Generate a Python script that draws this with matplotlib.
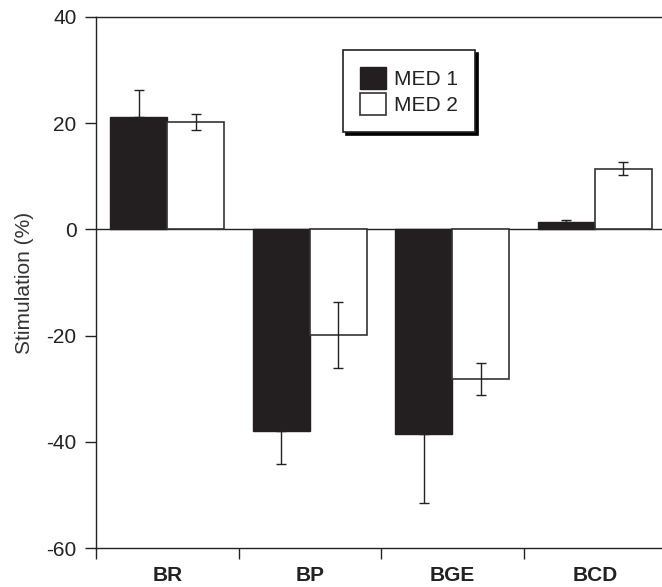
import matplotlib
matplotlib.use('Agg')
import matplotlib.pyplot as plt
import numpy as np

plt.rcParams['font.family'] = ['Liberation Sans', 'DejaVu Sans']

categories = ['BR', 'BP', 'BGE', 'BCD']
med1 = [21.2, -37.9, -38.6, 1.4]
med1_err = [5.1, 6.3, 13.0, 0.3]
med2 = [20.2, -19.9, -28.1, 11.4]
med2_err = [1.5, 6.2, 3.0, 1.2]
yticks = [-60, -40, -20, 0, 20, 40]

W, H = 662, 587
fig = plt.figure(figsize=(W / 100, H / 100), dpi=100)
ax = fig.add_axes([96 / W, 1 - 548 / H, (666 - 96) / W, (548 - 17) / H])

x = np.arange(len(categories))
width = 0.4

# MED 1 error bars only point away from zero
m1 = np.array(med1)
e1 = np.array(med1_err)
lower1 = np.where(m1 < 0, e1, 0)
upper1 = np.where(m1 >= 0, e1, 0)

ax.axhline(0, color='#222222', lw=1.0, zorder=1)
b1 = ax.bar(x - width / 2, med1, width, color='#231f20', edgecolor='#231f20',
            lw=1.0, zorder=2, label='MED 1')
b2 = ax.bar(x + width / 2, med2, width, color='white', edgecolor='#333333',
            lw=1.2, zorder=2, label='MED 2')
ax.errorbar(x - width / 2, med1, yerr=[lower1, upper1], fmt='none',
            ecolor='#222222', elinewidth=1.0, capsize=3.5, capthick=1.0, zorder=3)
ax.errorbar(x + width / 2, med2, yerr=med2_err, fmt='none',
            ecolor='#222222', elinewidth=1.0, capsize=3.5, capthick=1.0, zorder=3)

ax.set_xlim(-0.5, len(categories) - 0.5)
ax.set_ylim(-60, 40)
ax.set_yticks(yticks)
ax.set_yticklabels([str(v) for v in yticks], fontsize=15, color='#222222')
ax.set_xticks(np.arange(len(categories) + 1) - 0.5)
ax.set_xticklabels([''] * (len(categories) + 1))
ax.set_xticks(x, minor=True)
ax.set_xticklabels(categories, minor=True, fontsize=15, fontweight='bold',
                   color='#222222')
ax.tick_params(axis='x', which='minor', length=0, pad=13)
ax.tick_params(axis='x', which='major', length=8, width=1.0, color='#222222')
ax.tick_params(axis='y', length=8, width=1.0, pad=6, color='#222222')
ax.set_ylabel('Stimulation (%)', fontsize=15, color='#333333', labelpad=9)

for s in ['left', 'top', 'bottom']:
    ax.spines[s].set_linewidth(1.0)
    ax.spines[s].set_color('#222222')
ax.spines['right'].set_visible(False)

leg = ax.legend(handles=[b1, b2], loc='upper left',
                bbox_to_anchor=(343 / W, 1 - 50 / H), bbox_transform=fig.transFigure,
                fontsize=15, frameon=True, fancybox=False,
                shadow={'color': 'black', 'alpha': 1, 'ox': 2.5, 'oy': -2.5},
                handlelength=1.25, handleheight=1.25, handletextpad=0.4,
                labelspacing=0.22, borderpad=0.8, borderaxespad=0)
leg.get_frame().set_edgecolor('#222222')
leg.get_frame().set_linewidth(1.2)
for t in leg.get_texts():
    t.set_color('#222222')

fig.savefig('out.png', dpi=100)
